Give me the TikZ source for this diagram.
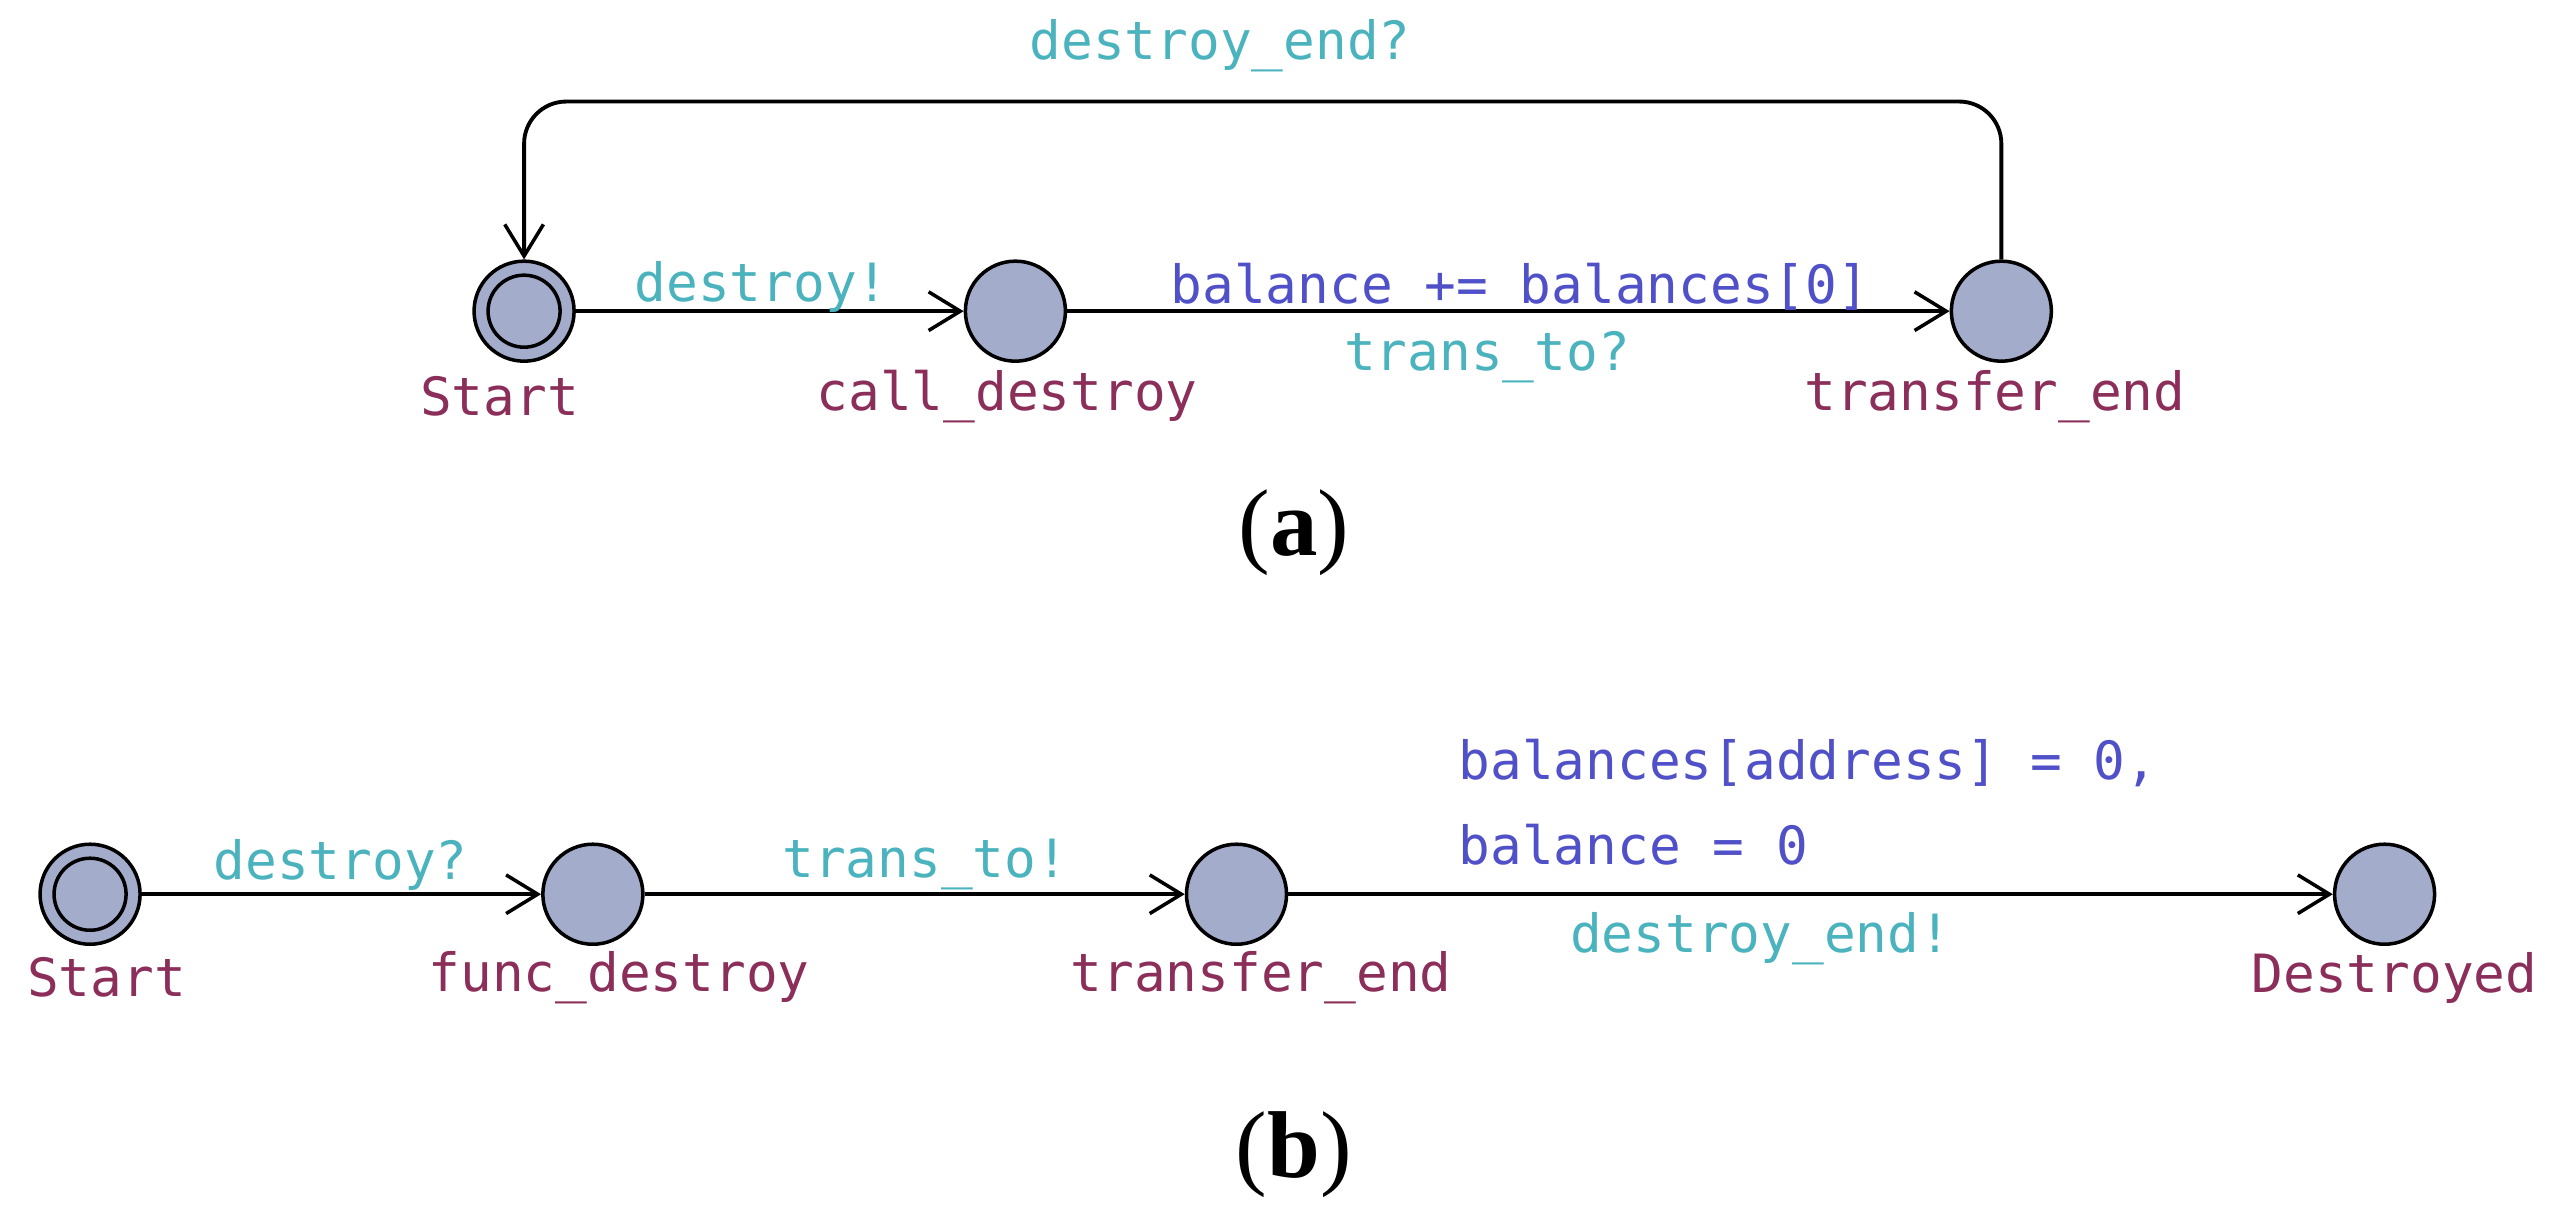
\documentclass[tikz,border=0pt]{standalone}
\usepackage{fontspec}
\setmainfont{Liberation Serif}
\newfontfamily\mono{DejaVu Sans Mono}
\usetikzlibrary{arrows.meta}
\definecolor{locfill}{HTML}{A4ACCB}
\definecolor{sync}{HTML}{4AB3BE}
\definecolor{upd}{HTML}{5050C8}
\definecolor{lname}{HTML}{8B2F5A}
\begin{document}
\begin{tikzpicture}[x=0.01638cm,y=-0.01638cm,
  loc/.style={circle,draw=black,line width=1pt,fill=locfill,minimum size=1cm,inner sep=0pt},
  innerring/.style={circle,draw=black,line width=1pt,minimum size=0.72cm,inner sep=0pt},
  lab/.style={font=\mono\fontsize{15}{18}\selectfont,inner sep=1pt},
  nm/.style={lab,text=lname},
  sy/.style={lab,text=sync},
  up/.style={lab,text=upd},
  edge/.style={line width=1.1pt,-{Straight Barb[length=9pt,width=11pt,line width=1pt]}},
  subcap/.style={font=\fontsize{27}{32}\selectfont}]
\useasboundingbox (0,0) rectangle (1568,740);
% (a)
\node[loc] (s) at (320,190) {};
\node[innerring] (si) at (320,190) {};
\node[loc] (c) at (620,190) {};
\node[loc] (t) at (1222,190) {};
\node[nm] (ls) at (305,242) {Start};
\node[nm] (lc) at (615,242) {call\_destroy};
\node[nm] (lt) at (1218,242) {transfer\_end};
\draw[edge] (s) -- (c);
\draw[edge] (c) -- (t);
\coordinate (top) at (746,62);
\draw[edge,rounded corners=12pt] (t.north) |- (top) -| (s.north);
\node[sy] (e1) at (745,28) {destroy\_end?};
\node[sy] (e2) at (465,175) {destroy!};
\node[up] (e3) at (928,175) {balance += balances[0]};
\node[sy] (e4) at (908,218) {trans\_to?};
\node[subcap] (ca) at (790,325) {(\textbf{a})};
% (b)
\node[loc] (s2) at (55,546) {};
\node[innerring] (s2i) at (55,546) {};
\node[loc] (f2) at (362,546) {};
\node[loc] (t2) at (755,546) {};
\node[loc] (d2) at (1456,546) {};
\node[nm] (ls2) at (65,597) {Start};
\node[nm] (lf2) at (378,597) {func\_destroy};
\node[nm] (lt2) at (770,597) {transfer\_end};
\node[nm] (ld2) at (1462,597) {Destroyed};
\draw[edge] (s2) -- (f2);
\draw[edge] (f2) -- (t2);
\draw[edge] (t2) -- (d2);
\node[sy] (g1) at (208,528) {destroy?};
\node[sy] (g2) at (565,528) {trans\_to!};
\node[up,anchor=west] (g3) at (888,466) {balances[address] = 0,};
\node[up,anchor=west] (g4) at (888,516) {balance = 0};
\node[sy] (g5) at (1075,573) {destroy\_end!};
\node[subcap] (cb) at (790,705) {(\textbf{b})};
\end{tikzpicture}
\end{document}
